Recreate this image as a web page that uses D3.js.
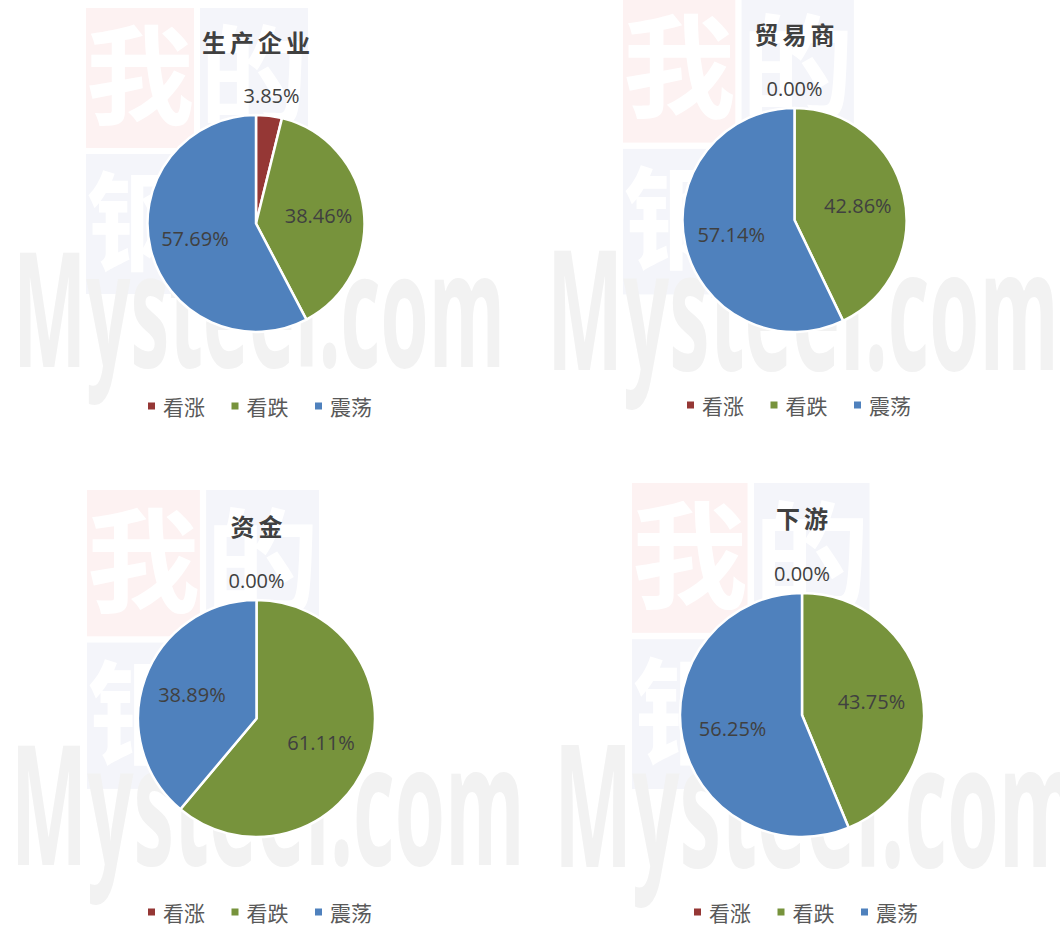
<!DOCTYPE html>
<html>
<head>
<meta charset="utf-8">
<script src="https://cdn.jsdelivr.net/npm/d3@7"></script>
<style>
  body { margin: 0; background: #fff; }
</style>
</head>
<body>
<div id="graph"></div>
<script>
// data
const categories = ["看涨", "看跌", "震荡"];
const titles = ["生产企业", "贸易商", "资金", "下游"];
const producers = [3.85, 38.46, 57.69];
const traders = [0.0, 42.86, 57.14];
const funds = [0.0, 61.11, 38.89];
const downstream = [0.0, 43.75, 56.25];

const colors = ["#953735", "#77933c", "#4f81bd"];

// where each of the four pies sits on the page
const panels = [
  { title: titles[0], values: producers, cx: 256, cy: 223.5, r: 108.5, titleY: 41, legendX: 148, legendY: 406, wm: { ox: 86, oy: 8, s: 1 } },
  { title: titles[1], values: traders, cx: 794.5, cy: 220, r: 112, titleY: 33, legendX: 687, legendY: 405, wm: { ox: 623, oy: -3, s: 1.04 } },
  { title: titles[2], values: funds, cx: 256.5, cy: 718.5, r: 118.5, titleY: 525, legendX: 148, legendY: 912, wm: { ox: 87, oy: 490, s: 1.045 } },
  { title: titles[3], values: downstream, cx: 802, cy: 715, r: 122, titleY: 517.5, legendX: 694, legendY: 912, wm: { ox: 632, oy: 483, s: 1.07 } }
];

const width = 1060,
  height = 927;

const svg = d3
  .select("#graph")
  .append("svg")
  .attr("width", width)
  .attr("height", height);

// faint "我的钢铁 Mysteel.com" stamp behind every chart
watermark = (g, wm) => {
  const s = wm.s;
  const bw = 108 * s,
    bh = 140 * s,
    gap = 6 * s;
  const boxes = [
    { x: wm.ox, y: wm.oy, fill: "#fdf2f2", ch: "我" },
    { x: wm.ox + bw + gap, y: wm.oy, fill: "#f4f5fa", ch: "的" },
    { x: wm.ox, y: wm.oy + bh + gap, fill: "#f4f5fa", ch: "钢" }
  ];
  g.selectAll(".wmBox")
    .data(boxes)
    .enter()
    .append("rect")
    .attr("x", d => d.x)
    .attr("y", d => d.y)
    .attr("width", bw)
    .attr("height", bh)
    .attr("fill", d => d.fill);
  g.selectAll(".wmChar")
    .data(boxes)
    .enter()
    .append("text")
    .attr("x", d => d.x + bw / 2)
    .attr("y", d => d.y + bh / 2 + 38 * s)
    .attr("text-anchor", "middle")
    .style("font-family", "'Noto Sans CJK SC'")
    .style("font-weight", 700)
    .style("font-size", 108 * s + "px")
    .style("fill", "#ffffff")
    .text(d => d.ch);
  g.append("text")
    .attr("x", wm.ox - 73 * s)
    .attr("y", wm.oy + 359 * s)
    .attr("textLength", 492 * s)
    .attr("lengthAdjust", "spacingAndGlyphs")
    .style("font-family", "'Open Sans'")
    .style("font-weight", 700)
    .style("font-size", 160 * s + "px")
    .style("fill", "#f2f2f2")
    .text("Mysteel.com");
};

const bg = svg.append("g").attr("class", "watermarks");
panels.forEach(p => watermark(bg.append("g"), p.wm));

const pie = d3
  .pie()
  .sort(null)
  .value(d => d);

panels.forEach(p => {
  const g = svg.append("g").attr("class", "panel");
  const arcs = pie(p.values);
  const arc = d3.arc().innerRadius(0).outerRadius(p.r);
  // inside labels sit a bit past the middle of the radius, like excel's "best fit"
  const inner = d3.arc().innerRadius(p.r * 0.58).outerRadius(p.r * 0.58);
  const outer = d3.arc().innerRadius(p.r + 20).outerRadius(p.r + 20);

  const pg = g.append("g").attr("transform", `translate(${p.cx},${p.cy})`);

  pg.selectAll(".slice")
    .data(arcs)
    .enter()
    .append("path")
    .attr("class", "slice")
    .attr("d", arc)
    .attr("fill", (d, i) => colors[i])
    .attr("stroke", "#ffffff")
    .attr("stroke-width", 2.5)
    .attr("stroke-linejoin", "round");

  pg.selectAll(".sliceLabel")
    .data(arcs)
    .enter()
    .append("text")
    .attr("class", "sliceLabel")
    .attr("transform", d => {
      // tiny slices get pushed outside the pie
      const c = d.data < 5 ? outer.centroid(d) : inner.centroid(d);
      return `translate(${c[0]},${c[1]})`;
    })
    .attr("text-anchor", "middle")
    .attr("dominant-baseline", "central")
    .style("font-family", "'Open Sans'")
    .style("font-size", "20px")
    .style("fill", "#404040")
    .text(d => d.data.toFixed(2) + "%");

  // title
  g.append("text")
    .attr("x", p.cx + 2)
    .attr("y", p.titleY)
    .attr("text-anchor", "middle")
    .attr("dominant-baseline", "central")
    .style("font-family", "'Noto Sans CJK SC'")
    .style("font-weight", 700)
    .style("font-size", "24px")
    .style("letter-spacing", "4px")
    .style("fill", "#404040")
    .text(p.title);

  // legend
  const lg = g.append("g").attr("class", "legend");
  lg.selectAll(".legendSwatch")
    .data(categories)
    .enter()
    .append("rect")
    .attr("x", (d, i) => p.legendX + i * 83.5)
    .attr("y", p.legendY - 3.5)
    .attr("width", 7)
    .attr("height", 7)
    .attr("fill", (d, i) => colors[i]);
  lg.selectAll(".legendLabel")
    .data(categories)
    .enter()
    .append("text")
    .attr("x", (d, i) => p.legendX + 15 + i * 83.5)
    .attr("y", p.legendY)
    .attr("dominant-baseline", "central")
    .style("font-family", "'Noto Sans CJK SC'")
    .style("font-size", "21px")
    .style("fill", "#595959")
    .text(d => d);
});
</script>
</body>
</html>
